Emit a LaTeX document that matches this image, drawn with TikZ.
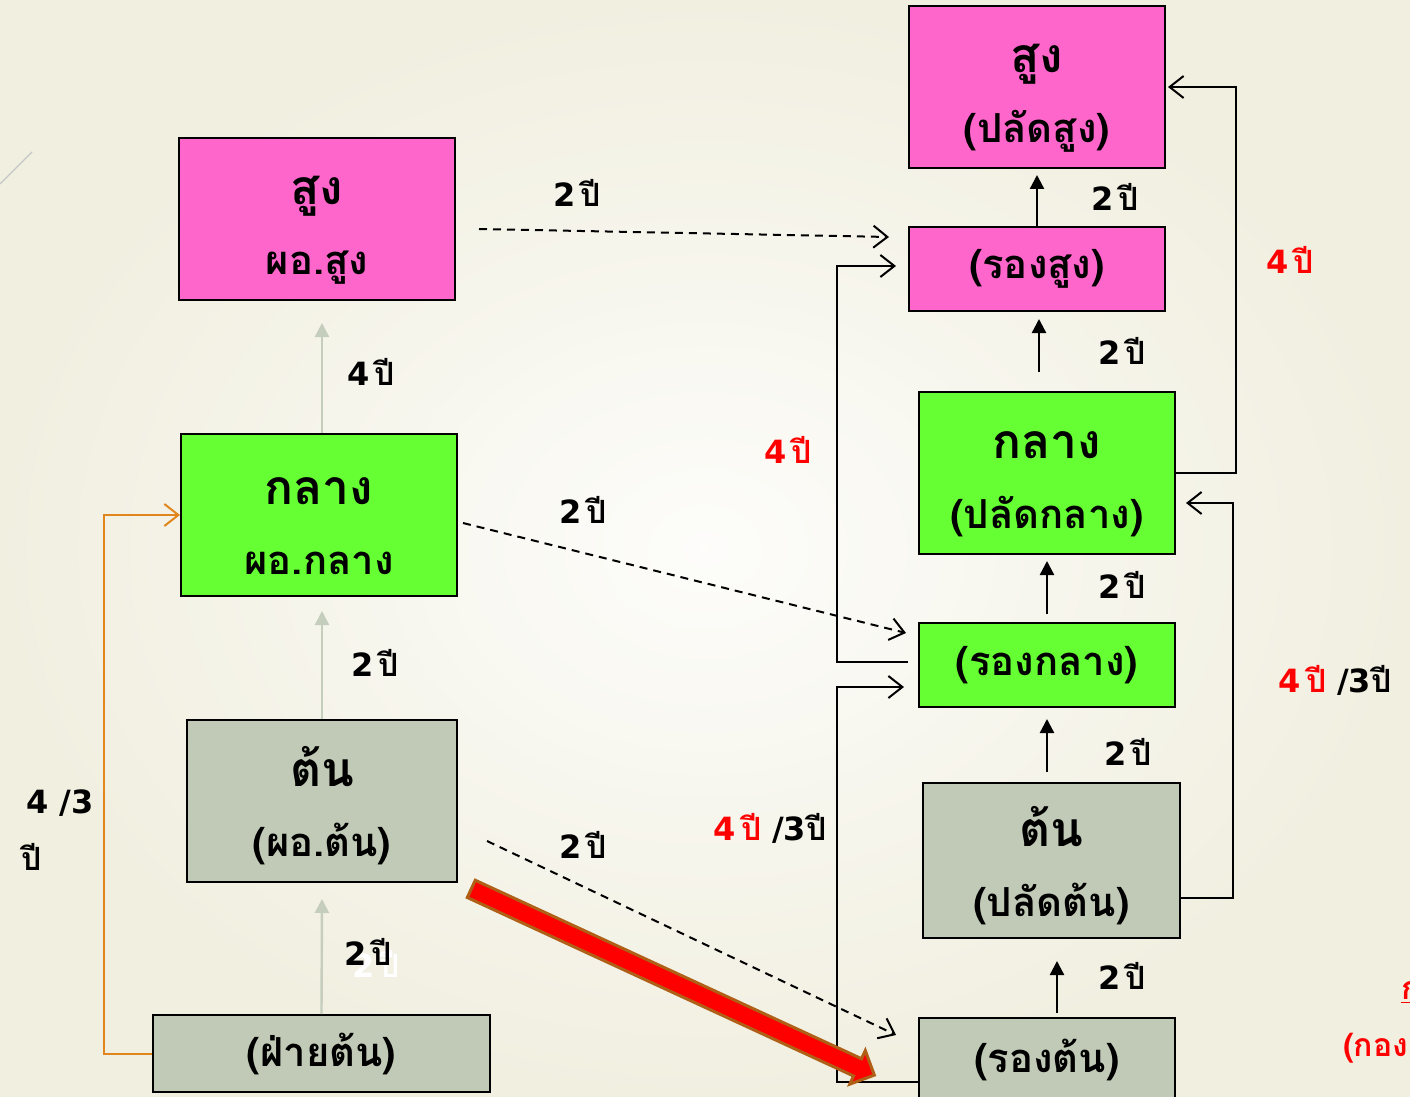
\documentclass[tikz,border=0pt]{standalone}
\usepackage{fontspec}
\newfontfamily\thaifont[Script=Thai]{Loma}
\newfontfamily\numfont{DejaVu Sans}
\usetikzlibrary{arrows.meta, shapes.arrows}
\definecolor{pinkbox}{HTML}{FF66CC}
\definecolor{greenbox}{HTML}{66FF33}
\definecolor{graybox}{HTML}{C1CAB6}
\definecolor{lineorange}{HTML}{E0861C}
\definecolor{arrowbrown}{HTML}{B05F17}
\definecolor{bgcream}{HTML}{F1EFE0}
\definecolor{paleline}{HTML}{C5CDBD}
\newcommand\boxtitle[1]{\rule{0pt}{25pt}{\fontsize{24}{26}\selectfont #1}}
\newcommand\yr[1]{{\numfont #1}\,ปี}

\tikzset{
  box/.style={draw=black, line width=1pt, align=center, inner sep=0pt,
    font=\thaifont\bfseries\fontsize{20}{35}\selectfont},
  bigbox/.style={box, minimum width=128pt, minimum height=81pt},
  smallbox/.style={box, minimum width=128pt, minimum height=42pt},
  yrs/.style={font=\thaifont\bfseries\fontsize{16}{18}\selectfont},
  redyrs/.style={yrs, text=red},
  up/.style={line width=1.2pt, -{Triangle[length=7pt,width=7pt]}},
  paleup/.style={up, draw=paleline, -{Triangle[length=7pt,width=7pt,color=paleline]}},
  openarr/.style={line width=1pt, -{Straight Barb[length=7pt,width=11pt,line width=1pt]}},
  dashline/.style={openarr, dash pattern=on 4pt off 3pt},
}

\begin{document}
\begin{tikzpicture}[x=0.5pt, y=-0.5pt]
	% background
	\shade[inner color=bgcream!15!white, outer color=bgcream] (0,0) rectangle (1410,1097);
	\useasboundingbox (0,0) rectangle (1410,1097);
	\draw[gray!45, line width=0.6pt] (0,184) -- (32,152);

	% left column
	\node[bigbox, fill=pinkbox, minimum width=138pt] (loHigh) at (317,219) {\boxtitle{สูง}\\ผอ.สูง};
	\node[bigbox, fill=greenbox, minimum width=138pt] (loMid) at (319,515) {\boxtitle{กลาง}\\ผอ.กลาง};
	\node[bigbox, fill=graybox, minimum width=135pt] (loLow) at (322,801) {\boxtitle{ต้น}\\(ผอ.ต้น)};
	\node[box, fill=graybox, minimum width=168.5pt, minimum height=38.5pt] (loBase) at (321.5,1053.5) {(ฝ่ายต้น)};

	% right column
	\node[bigbox, fill=pinkbox] (riHigh) at (1037,87) {\boxtitle{สูง}\\(ปลัดสูง)};
	\node[smallbox, fill=pinkbox] (riHighDep) at (1037,269) {(รองสูง)};
	\node[bigbox, fill=greenbox] (riMid) at (1047,473) {\boxtitle{กลาง}\\(ปลัดกลาง)};
	\node[smallbox, fill=greenbox] (riMidDep) at (1047,665) {(รองกลาง)};
	\node[bigbox, fill=graybox, minimum width=128.5pt, minimum height=77.5pt] (riLow) at (1051.5,860.5) {\boxtitle{ต้น}\\(ปลัดต้น)};
	\node[smallbox, fill=graybox] (riLowDep) at (1047,1060) {(รองต้น)};

	% left steps
	\draw[paleup] ([xshift=1.5pt]loMid.north) -- ([xshift=2.5pt,yshift=-11pt]loHigh.south);
	\draw[paleup] (loLow.north) -- ([xshift=1.5pt,yshift=-7pt]loMid.south);
	\draw[paleup] (loBase.north) -- ([yshift=-8pt]loLow.south);
	\draw[lineorange, openarr] (loBase.west) -- ++(-48,0) |- (loMid.west);
	\node[yrs] (yrA) at (371,372) {\yr{4}};
	\node[yrs] (yrB) at (375,663) {\yr{2}};
	\node[yrs, text=white] (yrGhost) at (376,964) {\yr{2}};
	\node[yrs] (yrC) at (368,952) {\yr{2}};
	\node[yrs] (yrD) at (60,803) {\numfont 4 /3};
	\node[yrs] (yrE) at (32,857) {ปี};

	% right steps
	\draw[up] ([xshift=5pt,yshift=2pt]riLowDep.north) -- ([xshift=2.75pt,yshift=-11pt]riLow.south);
	\draw[up] ([xshift=-2.25pt,yshift=5pt]riLow.north) -- ([yshift=-5.5pt]riMidDep.south);
	\draw[up] ([yshift=4pt]riMidDep.north) -- ([yshift=-3pt]riMid.south);
	\draw[up] ([xshift=-4pt,yshift=9.5pt]riMid.north) -- ([xshift=1pt,yshift=-3.5pt]riHighDep.south);
	\draw[up] (riHighDep.north) -- ([yshift=-3pt]riHigh.south);
	\node[yrs] (yrF) at (1122,976) {\yr{2}};
	\node[yrs] (yrG) at (1128,752) {\yr{2}};
	\node[yrs] (yrH) at (1122,585) {\yr{2}};
	\node[yrs] (yrI) at (1122,351) {\yr{2}};
	\node[yrs] (yrJ) at (1115,197) {\yr{2}};

	% fast track
	\draw[openarr] ([yshift=-18.75pt]riLow.east) -- ++(52,0) |- ([xshift=5pt,yshift=-15pt]riMid.east);
	\draw[openarr] (riMid.east) -- ++(60,0) |- ([xshift=1pt]riHigh.east);
	\draw[openarr] ([xshift=-5pt,yshift=1.5pt]riMidDep.west) -- ++(-71,0) |- ([xshift=-6pt,yshift=1.5pt]riHighDep.west);
	\draw[openarr] ([yshift=-11pt]riLowDep.west) -- ++(-81,0) |- ([xshift=-7pt,yshift=-11pt]riMidDep.west);
	\node[redyrs] (yrK) at (1290,260) {\yr{4}};
	\node[redyrs] (yrL) at (788,450) {\yr{4}};
	\node[yrs] (yrM) at (1335,680) {\textcolor{red}{\yr{4}} {\numfont/3}ปี};
	\node[yrs] (yrN) at (770,828) {\textcolor{red}{\yr{4}} {\numfont/3}ปี};

	% across
	\draw[dashline] ([xshift=11.5pt,yshift=-5pt]loHigh.east) -- ([xshift=-9.5pt,yshift=16pt]riHighDep.west);
	\draw[dashline] ([xshift=2.5pt,yshift=-4pt]loMid.east) -- ([xshift=-6pt,yshift=16pt]riMidDep.west);
	\draw[dashline] ([xshift=14.5pt,yshift=-20pt]loLow.east) -- ([xshift=-11pt,yshift=12.5pt]riLowDep.west);
	\node[yrs] (yrO) at (577,193) {\yr{2}};
	\node[yrs] (yrP) at (583,510) {\yr{2}};
	\node[yrs] (yrQ) at (583,845) {\yr{2}};

	\node[single arrow, fill=red, draw=arrowbrown, line width=1.5pt, minimum height=222pt,
	  minimum width=17pt, single arrow head extend=4.5pt, single arrow head indent=0pt,
	  inner sep=4pt, rotate=-24.8] (jump) at (668.5,980) {};

	% notes at the edge
	\node[redyrs, anchor=west] (noteA) at (1394,993) {\underline{ก}};
	\node[redyrs, anchor=west] (noteB) at (1336,1048) {(กอง};
\end{tikzpicture}
\end{document}
